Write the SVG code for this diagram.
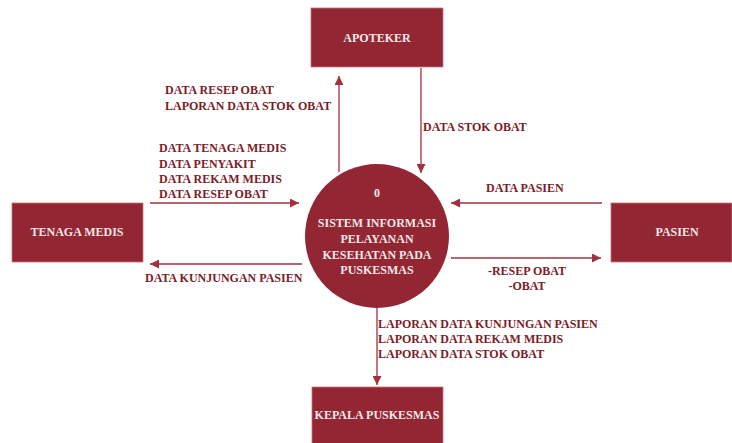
<svg xmlns="http://www.w3.org/2000/svg" width="732" height="443" viewBox="0 0 732 443">
<defs>
<marker id="ah" viewBox="0 0 10 10" refX="10" refY="5" markerWidth="9" markerHeight="9" markerUnits="userSpaceOnUse" orient="auto">
<path d="M0,0 L10,5 L0,10 z" fill="#a3303e"/>
</marker>
<style>
.box{fill:#922633;stroke:#c9737c;stroke-width:0.8}
.nl{font-family:"Liberation Serif",serif;font-weight:bold;font-size:12px;fill:#f4e6e8;text-anchor:middle}
.lb{font-family:"Liberation Serif",serif;font-weight:bold;font-size:12px;fill:#7b1c2a}
.cn{stroke:#a3303e;stroke-width:1.3;fill:none;marker-end:url(#ah)}
</style>
</defs>
<rect width="732" height="443" fill="#ffffff"/>
<g id="connectors">
<line class="cn" x1="339" y1="172" x2="339" y2="76"/>
<line class="cn" x1="421" y1="68" x2="421" y2="173"/>
<line class="cn" x1="150" y1="203" x2="299" y2="203"/>
<line class="cn" x1="302" y1="264" x2="150" y2="264"/>
<line class="cn" x1="602" y1="203" x2="451" y2="203"/>
<line class="cn" x1="451" y1="258" x2="601" y2="258"/>
<line class="cn" x1="377" y1="306" x2="377" y2="385"/>
</g>
<g id="labels">
<text class="lb" x="165" y="94">DATA RESEP OBAT</text>
<text class="lb" x="165" y="110">LAPORAN DATA STOK OBAT</text>
<text class="lb" x="159" y="152">DATA TENAGA MEDIS</text>
<text class="lb" x="159" y="168">DATA PENYAKIT</text>
<text class="lb" x="159" y="183">DATA REKAM MEDIS</text>
<text class="lb" x="159" y="198">DATA RESEP OBAT</text>
<text class="lb" x="423" y="131">DATA STOK OBAT</text>
<text class="lb" x="486" y="192">DATA PASIEN</text>
<text class="lb" x="527" y="275" text-anchor="middle">-RESEP OBAT</text>
<text class="lb" x="527" y="290" text-anchor="middle">-OBAT</text>
<text class="lb" x="145" y="282">DATA KUNJUNGAN PASIEN</text>
<text class="lb" x="378" y="328">LAPORAN DATA KUNJUNGAN PASIEN</text>
<text class="lb" x="378" y="343">LAPORAN DATA REKAM MEDIS</text>
<text class="lb" x="378" y="358">LAPORAN DATA STOK OBAT</text>
</g>
<g id="apoteker">
<rect class="box" x="311" y="8" width="132" height="59"/>
<text class="nl" x="377" y="42">APOTEKER</text>
</g>
<g id="tenaga-medis">
<rect class="box" x="12" y="203" width="131" height="59"/>
<text class="nl" x="77" y="236">TENAGA MEDIS</text>
</g>
<g id="pasien">
<rect class="box" x="611" y="203" width="121" height="59"/>
<text class="nl" x="677" y="236">PASIEN</text>
</g>
<g id="kepala-puskesmas">
<rect class="box" x="312" y="387" width="131" height="60"/>
<text class="nl" x="377" y="419">KEPALA PUSKESMAS</text>
</g>
<g id="proses-0">
<circle cx="377" cy="236" r="72" fill="#922633"/>
<text class="nl" x="377" y="197">0</text>
<text class="nl" x="377" y="227">SISTEM INFORMASI</text>
<text class="nl" x="377" y="243">PELAYANAN</text>
<text class="nl" x="377" y="259">KESEHATAN PADA</text>
<text class="nl" x="377" y="274">PUSKESMAS</text>
</g>
</svg>
